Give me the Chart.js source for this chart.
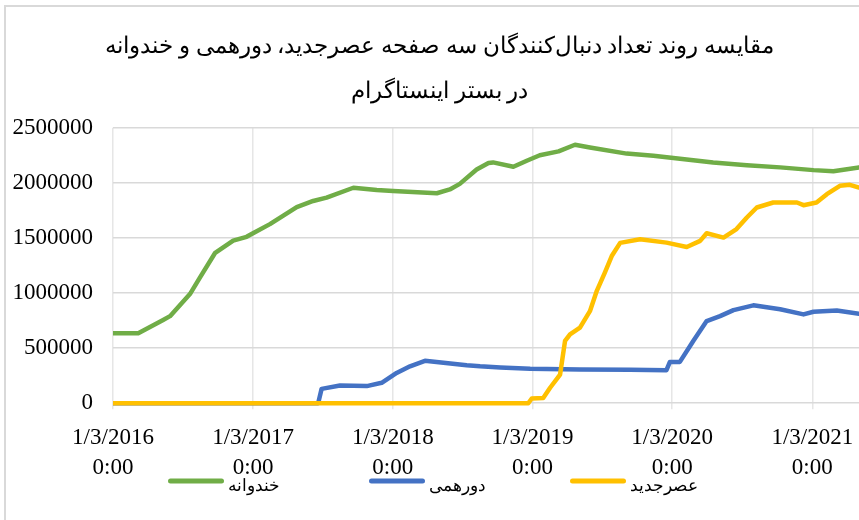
<!DOCTYPE html>
<html>
<head>
<meta charset="utf-8">
<script src="https://cdn.jsdelivr.net/npm/chart.js@4"></script>
<style>
  html, body { margin: 0; padding: 0; background: #fff; overflow: hidden; }
  #wrap { width: 859px; height: 520px; position: relative; }
</style>
</head>
<body>
<div id="wrap"><canvas id="c"></canvas></div>
<script>
// series labels + colours (Office palette)
const seriesNames = ["خندوانه", "دورهمی", "عصرجدید"];
const seriesColors = ["#70AD47", "#4472C4", "#FFC000"];

// خندوانه
const greenDates = ["2016-01-03","2016-03-09","2016-05-13","2016-05-31","2016-07-22","2016-08-17","2016-09-26","2016-11-12","2016-12-17","2017-01-04","2017-02-16","2017-04-27","2017-06-09","2017-07-14","2017-09-22","2017-11-22","2018-01-04","2018-04-28","2018-06-01","2018-06-27","2018-08-10","2018-09-10","2018-09-22","2018-11-14","2018-12-19","2019-01-22","2019-03-12","2019-04-24","2019-06-02","2019-09-06","2019-11-15","2020-01-06","2020-04-19","2020-07-16","2020-10-11","2021-01-06","2021-02-27","2021-05-05"];
const greenValues = [635000,635000,755000,790000,990000,1140000,1365000,1475000,1510000,1545000,1625000,1780000,1835000,1865000,1955000,1935000,1925000,1905000,1940000,1990000,2120000,2180000,2185000,2145000,2200000,2250000,2285000,2345000,2320000,2265000,2245000,2225000,2185000,2160000,2140000,2115000,2105000,2140000];

// دورهمی
const blueDates = ["2016-01-03","2017-06-22","2017-07-01","2017-08-18","2017-10-27","2017-12-05","2018-01-13","2018-02-17","2018-03-28","2018-07-15","2018-08-19","2018-10-11","2018-12-28","2019-05-07","2019-09-15","2019-12-19","2019-12-28","2020-01-23","2020-02-27","2020-04-02","2020-05-07","2020-06-11","2020-08-02","2020-10-11","2020-12-11","2021-01-06","2021-03-08","2021-05-05"];
const blueValues = [0,0,130000,160000,155000,185000,275000,335000,385000,345000,335000,325000,312000,306000,303000,300000,375000,375000,565000,745000,790000,845000,888000,852000,806000,830000,842000,812000];

// عصرجدید
const yellowDates = ["2016-01-03","2018-12-23","2019-01-01","2019-01-31","2019-02-18","2019-03-16","2019-03-29","2019-04-11","2019-05-07","2019-06-02","2019-06-20","2019-07-11","2019-07-29","2019-08-20","2019-10-11","2019-12-19","2020-02-10","2020-03-16","2020-04-02","2020-05-16","2020-06-19","2020-07-16","2020-08-11","2020-09-23","2020-11-24","2020-12-11","2021-01-14","2021-02-10","2021-03-16","2021-04-11","2021-05-05"];
const yellowValues = [0,0,43000,48000,140000,260000,565000,625000,685000,835000,1020000,1185000,1335000,1455000,1488000,1457000,1418000,1473000,1542000,1503000,1580000,1685000,1776000,1821000,1821000,1797000,1821000,1897000,1973000,1982000,1957000];

// axis
const xTickDates = ["2016-01-03","2017-01-03","2018-01-03","2019-01-03","2020-01-03","2021-01-03"];
const xMaxDate = "2021-05-05";
const yTicks = [0, 500000, 1000000, 1500000, 2000000, 2500000];
const titleLines = ["مقایسه روند تعداد دنبال‌کنندگان سه صفحه عصرجدید، دورهمی و خندوانه", "در بستر اینستاگرام"];

const ts = d => Date.parse(d + "T00:00:00Z");
const pts = (ds, vs) => ds.map((d, i) => ({ x: ts(d), y: vs[i] }));
const fmtDate = t => { const d = new Date(t); return [(d.getUTCMonth() + 1) + "/" + d.getUTCDate() + "/" + d.getUTCFullYear(), "0:00"]; };

const FONT = "'Liberation Serif', 'Times New Roman', 'DejaVu Serif', serif";
const TEXT = "#000";

const line = (i, data, order) => ({
  label: seriesNames[i], data: data, order: order,
  borderColor: seriesColors[i], backgroundColor: seriesColors[i],
  borderWidth: 4.5, pointRadius: 0, tension: 0, clip: { left: 0, top: 6, right: 0, bottom: 6 },
  borderCapStyle: "round", borderJoinStyle: "round",
});

// light frame around the (cropped) chart, like the spreadsheet chart area
const frame = {
  id: "frame",
  beforeDraw(chart) {
    const c = chart.ctx;
    c.save();
    c.strokeStyle = "#d9d9d9"; c.lineWidth = 2;
    c.beginPath(); c.moveTo(5, chart.height + 5); c.lineTo(5, 6); c.lineTo(chart.width + 5, 6); c.stroke();
    c.restore();
  },
  // the original chart is wider than the window, so its title sits a bit right of centre
  afterLayout(chart) { if (chart.titleBlock) chart.titleBlock.left = 20; },
};

// spreadsheet-style legend: equal slots, rounded line swatch then label
const sheetLegend = {
  id: "sheetLegend",
  afterDraw(chart) {
    const c = chart.ctx, x0 = 168, slot = 201, y = 481, sw = 56;
    c.save();
    c.font = "16.5px " + FONT;
    c.textBaseline = "middle";
    c.lineCap = "round"; c.lineWidth = 5;
    chart.data.datasets.forEach((ds, i) => {
      const x = x0 + i * slot;
      c.strokeStyle = ds.borderColor;
      c.beginPath(); c.moveTo(x + 2.5, y); c.lineTo(x + sw - 2.5, y); c.stroke();
      c.fillStyle = TEXT;
      c.fillText(ds.label, x + sw + 4, y + 6);
    });
    c.restore();
  },
};

new Chart(document.getElementById("c"), {
  type: "line",
  data: { datasets: [
    line(0, pts(greenDates, greenValues), 3),
    line(1, pts(blueDates, blueValues), 2),
    line(2, pts(yellowDates, yellowValues), 1),
  ]},
  plugins: [frame, sheetLegend],
  options: {
    responsive: true, maintainAspectRatio: false, animation: false,
    layout: { padding: { left: 0, right: 0, top: 0, bottom: 23 } },
    plugins: {
      title: { display: true, text: titleLines, color: TEXT, font: { family: FONT, size: 23, weight: "normal", lineHeight: 1.95 }, padding: { top: 25, bottom: 13 } },
      legend: { display: false },
      tooltip: { enabled: false },
    },
    scales: {
      x: {
        type: "linear", min: ts(xTickDates[0]), max: ts(xMaxDate),
        afterBuildTicks: s => { s.ticks = xTickDates.map(d => ({ value: ts(d) })); },
        afterFit: s => { s.paddingLeft = 0; s.paddingRight = 0; },
        ticks: { color: TEXT, font: { family: FONT, size: 23, lineHeight: 1.3 }, padding: 14, maxRotation: 0, autoSkip: false, callback: v => fmtDate(v) },
        grid: { color: "#e6e6e6", lineWidth: 1.5, tickLength: 6 },
        border: { display: false },
      },
      y: {
        min: 0, max: 2500000,
        afterBuildTicks: s => { s.ticks = yTicks.map(v => ({ value: v })); },
        afterFit: s => { s.width = 113; },
        ticks: { color: TEXT, font: { family: FONT, size: 23 }, padding: 20, callback: v => String(v) },
        grid: { color: "#d9d9d9", lineWidth: 1.5, drawTicks: false },
        border: { display: false },
      },
    },
  },
});
</script>
</body>
</html>
